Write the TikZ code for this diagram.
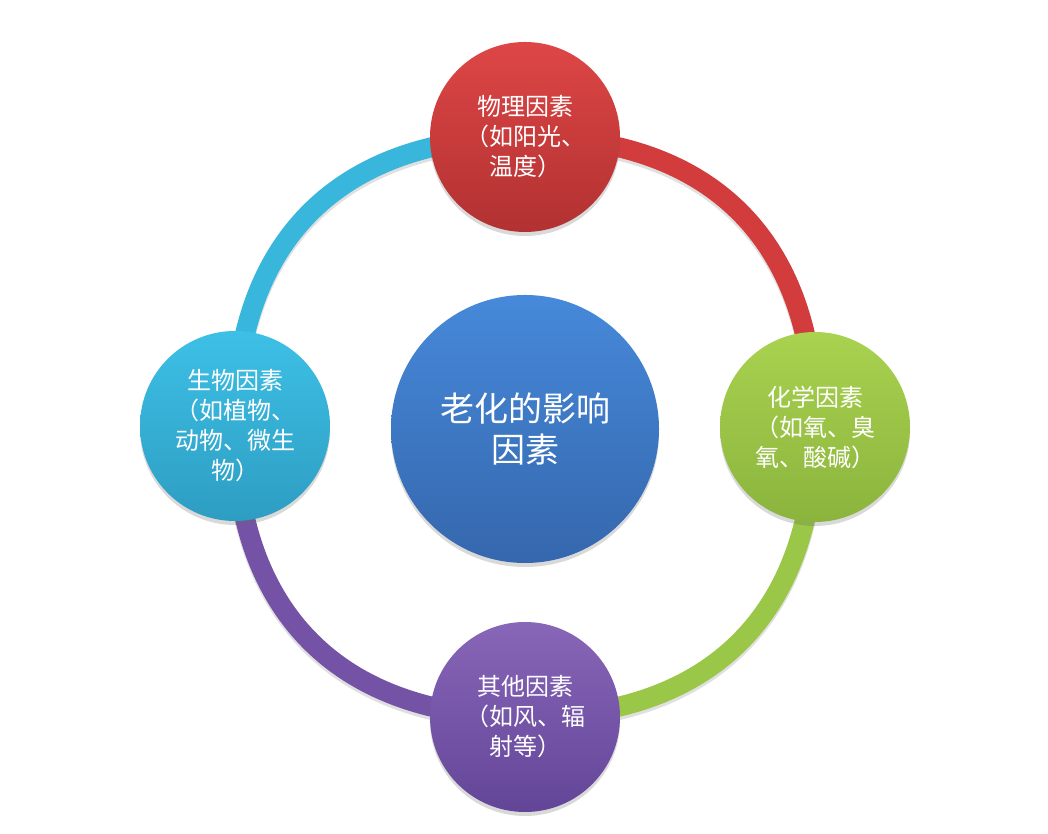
\documentclass[tikz,border=0pt]{standalone}
\usepackage{fontspec}
\newfontfamily\cjk{Noto Sans CJK SC}
\usetikzlibrary{shadows,backgrounds}
\definecolor{redA}{HTML}{DE4646}\definecolor{redB}{HTML}{B23131}
\definecolor{blueA}{HTML}{4689DA}\definecolor{blueB}{HTML}{3567AD}
\definecolor{cyanA}{HTML}{3DC0E6}\definecolor{cyanB}{HTML}{2E9DC2}
\definecolor{greenA}{HTML}{A9D250}\definecolor{greenB}{HTML}{8BB43D}
\definecolor{purpA}{HTML}{8866B8}\definecolor{purpB}{HTML}{634598}
\definecolor{ringC}{HTML}{38B6DC}\definecolor{ringR}{HTML}{D23C3C}
\definecolor{ringG}{HTML}{9BC748}\definecolor{ringP}{HTML}{7453A6}
\tikzset{
  ball/.style={circle, inner sep=0pt, minimum size=142.5pt, text=white, align=center,
    font=\cjk\fontsize{18}{22.5}\selectfont,
    drop shadow={shadow xshift=0pt, shadow yshift=-3pt, opacity=0.25, fill=black!60}},
  bigball/.style={ball, minimum size=201pt, font=\cjk\fontsize{25.5}{31}\selectfont},
  ring/.style={line width=15pt, looseness=1.16},
  ringshadow/.style={line width=15pt, looseness=1.16, black, opacity=0.12},
}
\begin{document}
\begin{tikzpicture}[x=0.75pt,y=0.75pt]
\useasboundingbox (0,0) rectangle (1048,834);
% circles
\node[bigball, top color=blueA, bottom color=blueB] (center) at (525,405) {老化的影响\\因素};
\node[ball, top color=redA, bottom color=redB] (top) at (525,697) {物理因素\\（如阳光、\\温度）};
\node[ball, top color=greenA, bottom color=greenB] (right) at (815,407) {化学因素\\（如氧、臭\\氧、酸碱）};
\node[ball, top color=purpA, bottom color=purpB] (bottom) at (525,117) {其他因素\\（如风、辐\\射等）};
\node[ball, top color=cyanA, bottom color=cyanB] (left) at (235,408) {生物因素\\（如植物、\\动物、微生\\物）};
% ring
\begin{scope}[on background layer]
\begin{scope}[transform canvas={yshift=-2.5pt}]
\draw[ringshadow] (left.center) to[out=90,in=180] (top.center);
\draw[ringshadow] (top.center) to[out=0,in=90] (right.center);
\draw[ringshadow] (right.center) to[out=-90,in=0] (bottom.center);
\draw[ringshadow] (bottom.center) to[out=180,in=-90] (left.center);
\end{scope}
\draw[ring, ringC] (left.center) to[out=90,in=180] (top.center);
\draw[ring, ringR] (top.center) to[out=0,in=90] (right.center);
\draw[ring, ringG] (right.center) to[out=-90,in=0] (bottom.center);
\draw[ring, ringP] (bottom.center) to[out=180,in=-90] (left.center);
\end{scope}
\end{tikzpicture}
\end{document}
